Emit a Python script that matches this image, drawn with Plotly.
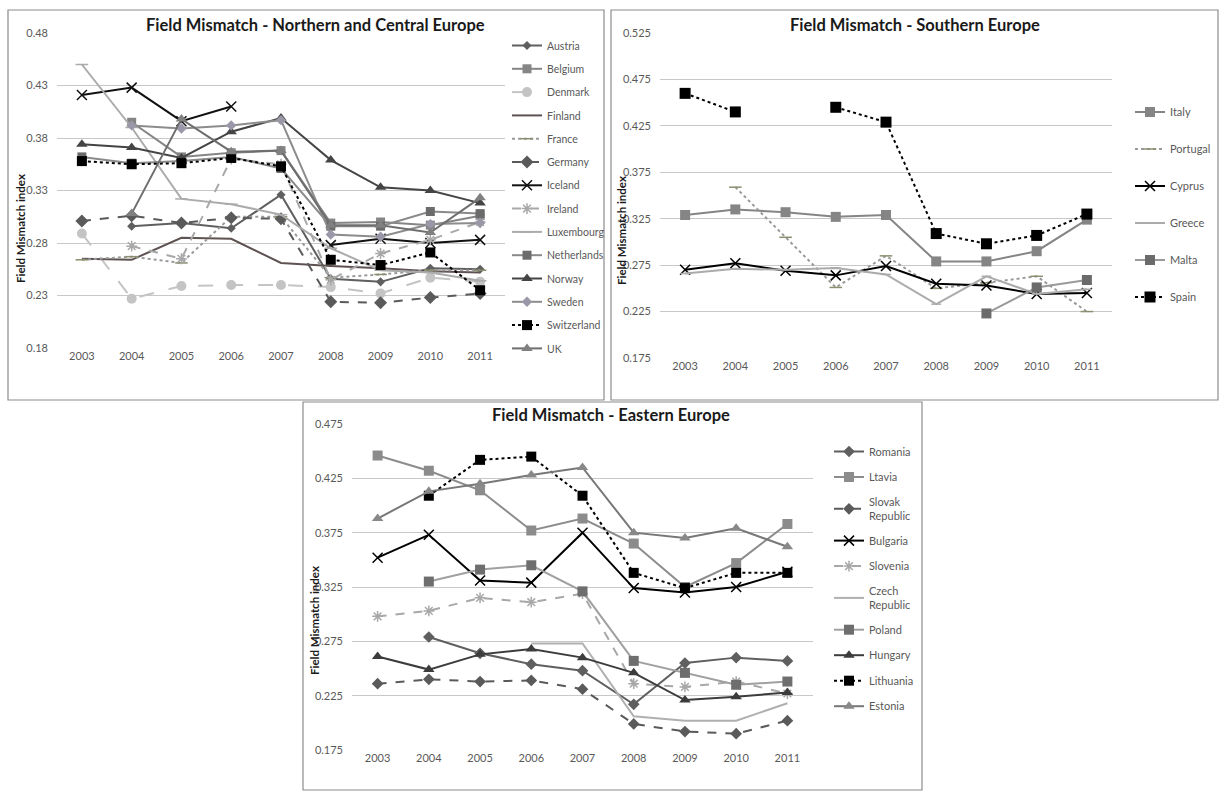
import plotly.graph_objects as go

W, H = 1221, 797

years = [2003, 2004, 2005, 2006, 2007, 2008, 2009, 2010, 2011]

# ---- Northern and Central Europe ----
austria = [None, 0.296, 0.299, 0.294, 0.326, 0.246, 0.243, 0.256, 0.255]
belgium = [None, 0.395, 0.362, 0.366, 0.368, 0.299, 0.300, 0.297, 0.306]
denmark = [0.289, 0.227, 0.239, 0.240, 0.240, 0.238, 0.232, 0.247, 0.243]
finland = [0.265, 0.264, 0.285, 0.284, 0.261, 0.258, 0.256, 0.253, 0.252]
france = [0.264, 0.267, 0.261, 0.305, 0.305, 0.247, 0.250, 0.254, 0.254]
germany = [0.301, 0.306, 0.299, 0.304, 0.303, 0.224, 0.223, 0.228, 0.232]
iceland = [0.421, 0.428, 0.396, 0.410, None, 0.278, 0.284, 0.280, 0.283]
ireland = [None, 0.277, 0.265, 0.360, 0.355, 0.245, 0.270, 0.283, 0.300]
luxembourg = [0.450, 0.390, 0.322, 0.317, 0.307, 0.275, 0.254, 0.252, 0.244]
netherlands = [0.362, 0.356, 0.358, 0.362, 0.351, 0.296, 0.296, 0.310, 0.308]
norway = [0.374, 0.371, 0.361, 0.386, 0.399, 0.359, 0.333, 0.330, 0.318]
sweden = [None, 0.392, 0.389, 0.392, 0.397, 0.288, 0.286, 0.298, 0.299]
switzerland = [0.358, 0.355, 0.356, 0.361, 0.353, 0.264, 0.259, 0.271, 0.235]
uk = [None, 0.308, 0.398, 0.367, 0.368, 0.297, 0.297, 0.290, 0.323]

# ---- Southern Europe ----
italy = [0.329, 0.335, 0.332, 0.327, 0.329, 0.279, 0.279, 0.290, 0.324]
portugal = [None, 0.359, 0.305, 0.251, 0.285, 0.250, 0.256, 0.263, 0.225]
cyprus = [0.270, 0.277, 0.269, 0.264, 0.274, 0.255, 0.253, 0.244, 0.245]
greece = [0.266, 0.271, 0.270, 0.272, 0.265, 0.233, 0.263, 0.244, 0.249]
malta = [None, None, None, None, None, None, 0.223, 0.251, 0.259]
spain = [0.460, 0.440, None, 0.445, 0.429, 0.309, 0.298, 0.307, 0.330]

# ---- Eastern Europe ----
romania = [None, 0.279, 0.264, 0.254, 0.248, 0.217, 0.255, 0.260, 0.257]
ltavia = [0.446, 0.432, 0.414, 0.377, 0.388, 0.365, 0.325, 0.347, 0.383]
slovak = [0.236, 0.240, 0.238, 0.239, 0.231, 0.199, 0.192, 0.190, 0.202]
bulgaria = [0.352, 0.373, 0.331, 0.329, 0.375, 0.324, 0.320, 0.325, 0.339]
slovenia = [0.298, 0.303, 0.315, 0.311, 0.319, 0.236, 0.233, 0.238, 0.227]
czech = [None, None, None, 0.273, 0.273, 0.206, 0.202, 0.202, 0.218]
poland = [None, 0.330, 0.341, 0.345, 0.321, 0.257, 0.246, 0.235, 0.238]
hungary = [0.261, 0.249, 0.263, 0.268, 0.260, 0.246, 0.221, 0.224, 0.228]
lithuania = [None, 0.409, 0.442, 0.445, 0.409, 0.338, 0.324, 0.338, 0.338]
estonia = [0.388, 0.413, 0.420, 0.428, 0.435, 0.375, 0.370, 0.379, 0.362]

FONT = "Lato, 'Open Sans', sans-serif"
TXT = "#595959"


def px(x):
    return x / W


def py(y):
    return 1 - y / H


fig = go.Figure()


def add(name, vals, axis, legend, color, dash="solid", width=2, symbol=None,
        msize=8, mcolor=None, open_marker=False):
    mode = "lines+markers" if symbol else "lines"
    mk = {}
    if symbol:
        if open_marker:
            mk = dict(symbol=symbol, size=msize, color=mcolor or color,
                      line=dict(color=mcolor or color, width=1.5))
        else:
            mk = dict(symbol=symbol, size=msize, color=mcolor or color,
                      line=dict(width=0))
    fig.add_trace(go.Scatter(
        x=years, y=vals, name=name, mode=mode,
        line=dict(color=color, dash=dash, width=width),
        marker=mk, xaxis="x" + axis, yaxis="y" + axis,
        legend=legend, legendgroup=name, connectgaps=False,
    ))


# Panel 1
L1 = "legend"
add("Austria", austria, "", L1, "#5f5f5f", symbol="diamond", msize=7)
add("Belgium", belgium, "", L1, "#858585", symbol="square", msize=9)
add("Denmark", denmark, "", L1, "#c4c4c4", dash="longdash", symbol="circle", msize=10)
add("Finland", finland, "", L1, "#5e5252", width=2)
add("France", france, "", L1, "#9a9a9a", dash="dot", symbol="line-ew",
    msize=9, mcolor="#8a8f6e", open_marker=True)
add("Germany", germany, "", L1, "#5a5a5a", dash="dash", symbol="diamond", msize=10)
add("Iceland", iceland, "", L1, "#111111", symbol="x-thin", msize=10, open_marker=True)
add("Ireland", ireland, "", L1, "#a8a8a8", dash="dash", symbol="asterisk",
    msize=9, open_marker=True)
add("Luxembourg", luxembourg, "", L1, "#ababab", symbol="line-ew", msize=9,
    open_marker=True)
add("Netherlands", netherlands, "", L1, "#8a8a8a", symbol="square", msize=9,
    mcolor="#6b6b6b")
add("Norway", norway, "", L1, "#444444", symbol="triangle-up", msize=10)
add("Sweden", sweden, "", L1, "#8c8c8c", symbol="diamond", msize=8, mcolor="#9a98a8")
add("Switzerland", switzerland, "", L1, "#000000", dash="dot", symbol="square", msize=10)
add("UK", uk, "", L1, "#6e6e6e", symbol="triangle-up", msize=10, mcolor="#808080")

# Panel 2
L2 = "legend2"
add("Italy", italy, "2", L2, "#858585", symbol="square", msize=10)
add("Portugal", portugal, "2", L2, "#9a9a9a", dash="dot", symbol="line-ew",
    msize=9, mcolor="#8a8f6e", open_marker=True)
add("Cyprus", cyprus, "2", L2, "#000000", symbol="x-thin", msize=10, open_marker=True)
add("Greece", greece, "2", L2, "#ababab", symbol="line-ew", msize=7, open_marker=True)
add("Malta", malta, "2", L2, "#9a9a9a", symbol="square", msize=10, mcolor="#6b6b6b")
add("Spain", spain, "2", L2, "#000000", dash="dot", symbol="square", msize=11)

# Panel 3
L3 = "legend3"
add("Romania", romania, "3", L3, "#5f5f5f", symbol="diamond", msize=9)
add("Ltavia", ltavia, "3", L3, "#8c8c8c", symbol="square", msize=10)
add("Slovak<br>Republic", slovak, "3", L3, "#5a5a5a", dash="dash", symbol="diamond", msize=9)
add("Bulgaria", bulgaria, "3", L3, "#000000", symbol="x-thin", msize=10, open_marker=True)
add("Slovenia", slovenia, "3", L3, "#a8a8a8", dash="dash", symbol="asterisk",
    msize=9, open_marker=True)
add("Czech<br>Republic", czech, "3", L3, "#b0b0b0", width=2)
add("Poland", poland, "3", L3, "#a0a0a0", symbol="square", msize=10, mcolor="#6e6e6e")
add("Hungary", hungary, "3", L3, "#3c3c3c", symbol="triangle-up", msize=10)
add("Lithuania", lithuania, "3", L3, "#000000", dash="dot", symbol="square", msize=10)
add("Estonia", estonia, "3", L3, "#777777", symbol="triangle-up", msize=10, mcolor="#888888")


def xax(x0, x1, anchor):
    return dict(domain=[px(x0), px(x1)], range=[2002.5, 2011.5], tickvals=years,
                showgrid=False, zeroline=False, showline=False, ticks="",
                tickfont=dict(family=FONT, size=11, color=TXT), anchor=anchor,
                fixedrange=True, automargin=False)


def yax(y0, y1, rng, fmt, tick0, anchor):
    return dict(domain=[py(y1), py(y0)], range=rng, dtick=0.05, tick0=tick0,
                tickformat=fmt, showgrid=True, gridcolor="#c8c8c8", gridwidth=1,
                zeroline=False, showline=False, ticks="",
                tickfont=dict(family=FONT, size=11, color=TXT), anchor=anchor,
                ticklabelstandoff=8, fixedrange=True, automargin=False)


def leg(x, y, gap, size=11):
    return dict(x=px(x), y=py(y), xanchor="left", yanchor="top",
                font=dict(family=FONT, size=size, color=TXT),
                tracegroupgap=gap, bgcolor="rgba(0,0,0,0)", itemwidth=30,
                borderwidth=0)


shapes = []
for (x0, y0, x1, y1) in [(8, 10, 604, 400), (611, 10, 1218, 400), (303, 402, 922, 790)]:
    shapes.append(dict(type="rect", xref="paper", yref="paper",
                       x0=px(x0), x1=px(x1), y0=py(y1), y1=py(y0),
                       line=dict(color="#8c8c8c", width=1.2)))

annotations = []
for (txt, cx, cy) in [("Field Mismatch - Northern and Central Europe", 316, 25),
                      ("Field Mismatch - Southern Europe", 915, 25),
                      ("Field Mismatch - Eastern Europe", 611, 415)]:
    annotations.append(dict(text="<b>" + txt + "</b>", x=px(cx), y=py(cy),
                            xref="paper", yref="paper", showarrow=False,
                            xanchor="center", yanchor="middle",
                            font=dict(family=FONT, size=16.5, color="#1a1a1a")))
for (cx, cy) in [(20, 229), (622, 231), (314, 621)]:
    annotations.append(dict(text="<b>Field Mismatch index</b>", x=px(cx), y=py(cy),
                            xref="paper", yref="paper", showarrow=False,
                            textangle=-90, xanchor="center", yanchor="middle",
                            font=dict(family=FONT, size=11.5, color="#1a1a1a")))

fig.update_layout(
    width=W, height=H, margin=dict(l=0, r=0, t=0, b=0, pad=0, autoexpand=False),
    paper_bgcolor="white", plot_bgcolor="white", showlegend=True,
    xaxis=xax(57, 505, "y"), yaxis=yax(33, 348, [0.18, 0.48], ".2f", 0.18, "x"),
    xaxis2=xax(660, 1112, "y2"), yaxis2=yax(33, 358, [0.175, 0.525], ".3f", 0.175, "x2"),
    xaxis3=xax(352, 813, "y3"), yaxis3=yax(424, 750, [0.175, 0.475], ".3f", 0.175, "x3"),
    legend=leg(507, 31, 4.3, 10.5),
    legend2=leg(1130, 97.5, 18),
    legend3=leg(829, 437, 6.5),
    shapes=shapes, annotations=annotations,
)

fig.write_html("out.html", config={"displayModeBar": False},
               post_script="document.body.style.margin='0';document.body.style.overflow='hidden';")
